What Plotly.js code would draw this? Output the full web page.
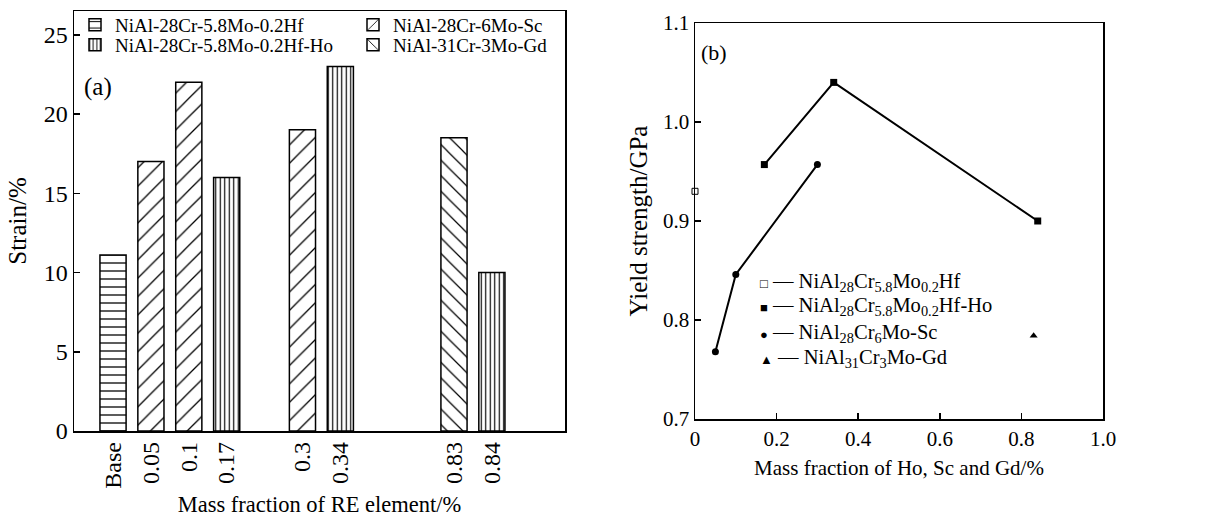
<!DOCTYPE html>
<html><head><meta charset="utf-8">
<script src="https://cdn.plot.ly/plotly-3.0.1.min.js"></script>
<style>html,body{margin:0;padding:0;background:#fff}</style>
</head><body><div id="chart" style="width:1229px;height:519px"></div>
<script>
// ---------- Panel (a): strain bars ----------
const categories = ['Base', '0.05', '0.1', '0.17', '0.3', '0.34', '0.83', '0.84'];
const barNames = ['NiAl-28Cr-5.8Mo-0.2Hf', 'NiAl-28Cr-6Mo-Sc', 'NiAl-28Cr-5.8Mo-0.2Hf-Ho', 'NiAl-31Cr-3Mo-Gd'];
const hfX = ['Base'];               const hfY = [11.1];
const scX = ['0.05', '0.1', '0.3']; const scY = [17.0, 22.0, 19.0];
const hoX = ['0.17', '0.34', '0.84']; const hoY = [16.0, 23.0, 10.0];
const gdX = ['0.83'];               const gdY = [18.5];

// ---------- Panel (b): yield strength ----------
const lineNames = ['NiAl<sub>28</sub>Cr<sub>5.8</sub>Mo<sub>0.2</sub>Hf',
                   'NiAl<sub>28</sub>Cr<sub>5.8</sub>Mo<sub>0.2</sub>Hf-Ho',
                   'NiAl<sub>28</sub>Cr<sub>6</sub>Mo-Sc',
                   'NiAl<sub>31</sub>Cr<sub>3</sub>Mo-Gd'];
const ysHfX = [0];                 const ysHfY = [0.930];
const ysHoX = [0.17, 0.34, 0.84];  const ysHoY = [0.957, 1.040, 0.900];
const ysScX = [0.05, 0.10, 0.30];  const ysScY = [0.768, 0.846, 0.957];
const ysGdX = [0.83];              const ysGdY = [0.784];
const xTickVals = [0, 0.2, 0.4, 0.6, 0.8, 1.0];
const xTickText = ['0', '0.2', '0.4', '0.6', '0.8', '1.0'];
const yTickVals = [0.7, 0.8, 0.9, 1.0, 1.1];

// ---------- styling ----------
const W = 1229, H = 519;
const FONT = 'Liberation Serif, Times New Roman, serif';
const px = v => v / W;
const py = v => 1 - v / H;
// slot order on the categorical axis (blank spacers create the gaps)
const slots = ['Base', '0.05', '0.1', '0.17', ' ', '0.3', '0.34', '  ', '   ', '0.83', '0.84'];

function barTrace(x, y, name, shape, size, solidity, legendId) {
  return {
    type: 'bar', x: x, y: y, name: name, xaxis: 'x', yaxis: 'y', width: 0.69,
    legend: legendId,
    marker: { color: '#fff', line: { color: '#000', width: 1.5 },
      pattern: { shape: shape, size: size, solidity: solidity, fgcolor: '#000', bgcolor: '#fff' } }
  };
}
const traces = [
  barTrace(hfX, hfY, barNames[0], '-', 8, 0.16, 'legend'),
  barTrace(scX, scY, barNames[1], '/', 13, 0.1, 'legend2'),
  barTrace(hoX, hoY, barNames[2], '|', 4.5, 0.26, 'legend3'),
  barTrace(gdX, gdY, barNames[3], '\\', 11, 0.11, 'legend4'),
  { type: 'scatter', mode: 'markers', x: ysHfX, y: ysHfY, xaxis: 'x2', yaxis: 'y2', showlegend: false, cliponaxis: false,
    marker: { symbol: 'square-open', size: 6, color: '#000', line: { width: 1, color: '#000' } } },
  { type: 'scatter', mode: 'lines+markers', x: ysHoX, y: ysHoY, xaxis: 'x2', yaxis: 'y2', showlegend: false, cliponaxis: false,
    line: { color: '#000', width: 2 }, marker: { symbol: 'square', size: 7, color: '#000' } },
  { type: 'scatter', mode: 'lines+markers', x: ysScX, y: ysScY, xaxis: 'x2', yaxis: 'y2', showlegend: false, cliponaxis: false,
    line: { color: '#000', width: 2 }, marker: { symbol: 'circle', size: 7, color: '#000' } },
  { type: 'scatter', mode: 'markers', x: ysGdX, y: ysGdY, xaxis: 'x2', yaxis: 'y2', showlegend: false, cliponaxis: false,
    marker: { symbol: 'triangle-up', size: 7, color: '#000' } }
];

function legendAt(x, y) {
  return { x: px(x), y: py(y), xanchor: 'left', yanchor: 'middle', orientation: 'v',
    bgcolor: 'rgba(0,0,0,0)', borderwidth: 0, font: { family: FONT, size: 19, color: '#000' } };
}

const markerGlyphs = ['□', '■', '●', '▲'];
const legendRowsY = [282, 307, 333, 358];
const annotations = [
  { text: '(a)', xref: 'paper', yref: 'paper', x: px(82), y: py(87), xanchor: 'left', yanchor: 'middle',
    showarrow: false, font: { family: FONT, size: 25, color: '#000' } },
  { text: '(b)', xref: 'paper', yref: 'paper', x: px(699), y: py(52), xanchor: 'left', yanchor: 'middle',
    showarrow: false, font: { family: FONT, size: 22, color: '#000' } }
];
lineNames.forEach((n, i) => {
  annotations.push({
    text: '<span style="font-size:13px">' + markerGlyphs[i] + '</span> — ' + n,
    xref: 'paper', yref: 'paper', x: px(758), y: py(legendRowsY[i]), xanchor: 'left', yanchor: 'middle',
    showarrow: false, font: { family: FONT, size: 20.5, color: '#000' }
  });
});

const axisCommon = { showline: true, linecolor: '#000', linewidth: 1.5, mirror: true, showgrid: false, zeroline: false };
const layout = {
  width: W, height: H, margin: { l: 0, r: 0, t: 0, b: 0 },
  paper_bgcolor: '#fff', plot_bgcolor: '#fff', barmode: 'overlay', showlegend: true,
  font: { family: FONT, color: '#000' },
  xaxis: Object.assign({}, axisCommon, {
    domain: [px(74), px(565)], anchor: 'y', type: 'category', categoryorder: 'array', categoryarray: slots,
    tickvals: categories, ticktext: categories,
    range: [-1.03, 11.93], ticks: '', tickangle: -90, tickfont: { family: FONT, size: 24 },
    title: { text: 'Mass fraction of RE element/%', font: { family: FONT, size: 22.5 }, standoff: 8 }
  }),
  yaxis: Object.assign({}, axisCommon, {
    domain: [py(431), py(11)], anchor: 'x', range: [0, 26.5], tickvals: [0, 5, 10, 15, 20, 25],
    ticks: 'inside', ticklen: 6, tickwidth: 1.5, tickcolor: '#000', tickfont: { family: FONT, size: 24 },
    title: { text: 'Strain/%', font: { family: FONT, size: 25 }, standoff: 10 }
  }),
  xaxis2: Object.assign({}, axisCommon, {
    domain: [px(695), px(1103)], anchor: 'y2', range: [0, 1], tickvals: xTickVals, ticktext: xTickText,
    ticks: 'inside', ticklen: 6, tickwidth: 1.5, tickcolor: '#000', tickfont: { family: FONT, size: 21 },
    title: { text: 'Mass fraction of Ho, Sc and Gd/%', font: { family: FONT, size: 21 }, standoff: 10 }
  }),
  yaxis2: Object.assign({}, axisCommon, {
    domain: [py(419), py(23)], anchor: 'x2', range: [0.7, 1.1], tickvals: yTickVals, tickformat: '.1f',
    ticks: 'inside', ticklen: 6, tickwidth: 1.5, tickcolor: '#000', tickfont: { family: FONT, size: 21 },
    title: { text: 'Yield strength/GPa', font: { family: FONT, size: 25 }, standoff: 8 }
  }),
  legend: legendAt(75, 25),
  legend2: legendAt(353, 25),
  legend3: legendAt(75, 45),
  legend4: legendAt(353, 45),
  annotations: annotations
};
Plotly.newPlot('chart', traces, layout, { displayModeBar: false, staticPlot: true });
</script></body></html>
